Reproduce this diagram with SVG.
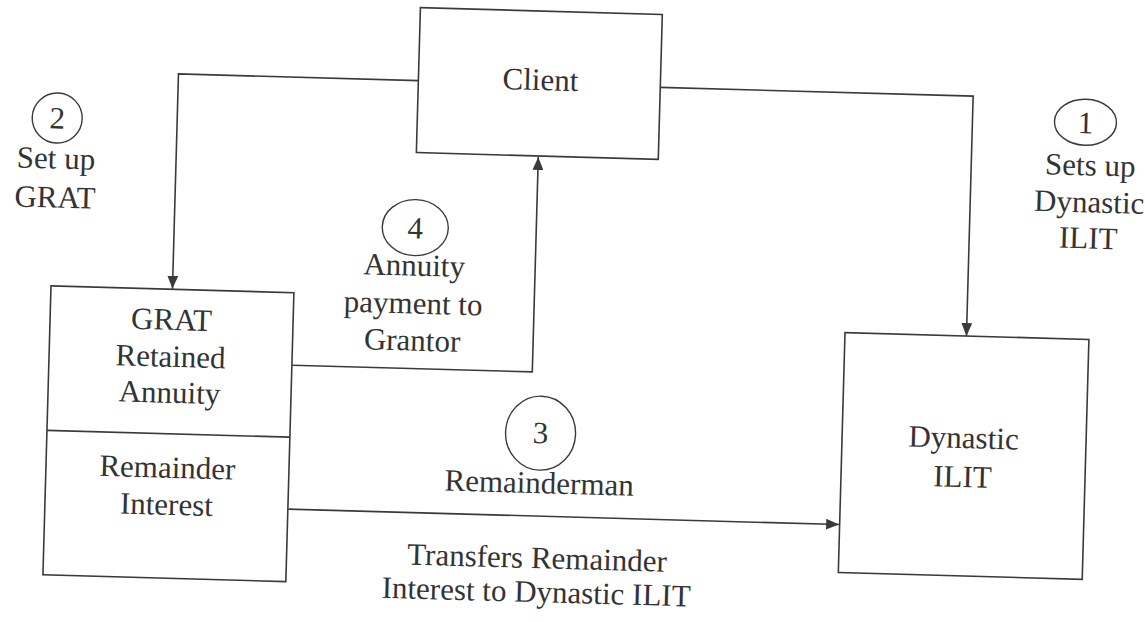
<svg xmlns="http://www.w3.org/2000/svg" width="1145" height="622" viewBox="0 0 1145 622">
<style>
  .box { fill: none; stroke: #3a3a3a; stroke-width: 1.6; }
  .conn { fill: none; stroke: #3a3a3a; stroke-width: 1.6; }
  .num { fill: none; stroke: #3a3a3a; stroke-width: 1.4; }
  .t { font-family: 'Liberation Serif', 'Times New Roman', serif; font-size: 31px; fill: #333; text-anchor: middle; }
</style>
<defs>
  <marker id="arrow" viewBox="0 0 12 10" refX="12" refY="5" markerWidth="13" markerHeight="11" markerUnits="userSpaceOnUse" orient="auto">
    <path d="M0,0 L12,5 L0,10 Z" fill="#3a3a3a"/>
  </marker>
</defs>
<rect width="1145" height="622" fill="#ffffff"/>
<g transform="rotate(1.6 572 311)">
  <g id="connectors">
    <polyline class="conn" points="412,85 172,85 172,300" marker-end="url(#arrow)"/>
    <polyline class="conn" points="654,85 967,85 967,325" marker-end="url(#arrow)"/>
    <polyline class="conn" points="294,373 534,373 534,158" marker-end="url(#arrow)"/>
    <line class="conn" x1="294" y1="517" x2="845" y2="517" marker-end="url(#arrow)"/>
  </g>
  <g id="client">
    <rect class="box" x="412" y="12" width="242" height="145"/>
    <text class="t" x="534" y="91">Client</text>
  </g>
  <g id="grat">
    <rect class="box" x="50.5" y="300.5" width="243" height="289"/>
    <line class="box" x1="50.5" y1="445" x2="293.5" y2="445"/>
    <text class="t" x="172" y="341">GRAT</text>
    <text class="t" x="172" y="378">Retained</text>
    <text class="t" x="172" y="414">Annuity</text>
    <text class="t" x="172" y="489">Remainder</text>
    <text class="t" x="172" y="526">Interest</text>
  </g>
  <g id="dynastic-ilit">
    <rect class="box" x="845.5" y="325" width="244" height="240"/>
    <text class="t" x="967" y="437">Dynastic</text>
    <text class="t" x="967" y="476">ILIT</text>
  </g>
  <g id="step1">
    <ellipse class="num" cx="1080" cy="108" rx="31" ry="23"/>
    <text class="t" x="1080" y="119">1</text>
    <text class="t" x="1086" y="161">Sets up</text>
    <text class="t" x="1086" y="198">Dynastic</text>
    <text class="t" x="1086" y="234">ILIT</text>
  </g>
  <g id="step2">
    <ellipse class="num" cx="52" cy="132.5" rx="25" ry="25"/>
    <text class="t" x="52" y="143">2</text>
    <text class="t" x="52" y="183">Set up</text>
    <text class="t" x="52" y="222">GRAT</text>
  </g>
  <g id="step3">
    <ellipse class="num" cx="544" cy="434" rx="35" ry="37"/>
    <text class="t" x="544" y="444">3</text>
    <text class="t" x="544" y="494">Remainderman</text>
    <text class="t" x="544" y="569">Transfers Remainder</text>
    <text class="t" x="544" y="603">Interest to Dynastic ILIT</text>
  </g>
  <g id="step4">
    <ellipse class="num" cx="413" cy="232" rx="33" ry="28"/>
    <text class="t" x="413" y="243">4</text>
    <text class="t" x="413" y="280">Annuity</text>
    <text class="t" x="413" y="318">payment to</text>
    <text class="t" x="413" y="355">Grantor</text>
  </g>
</g>
</svg>
